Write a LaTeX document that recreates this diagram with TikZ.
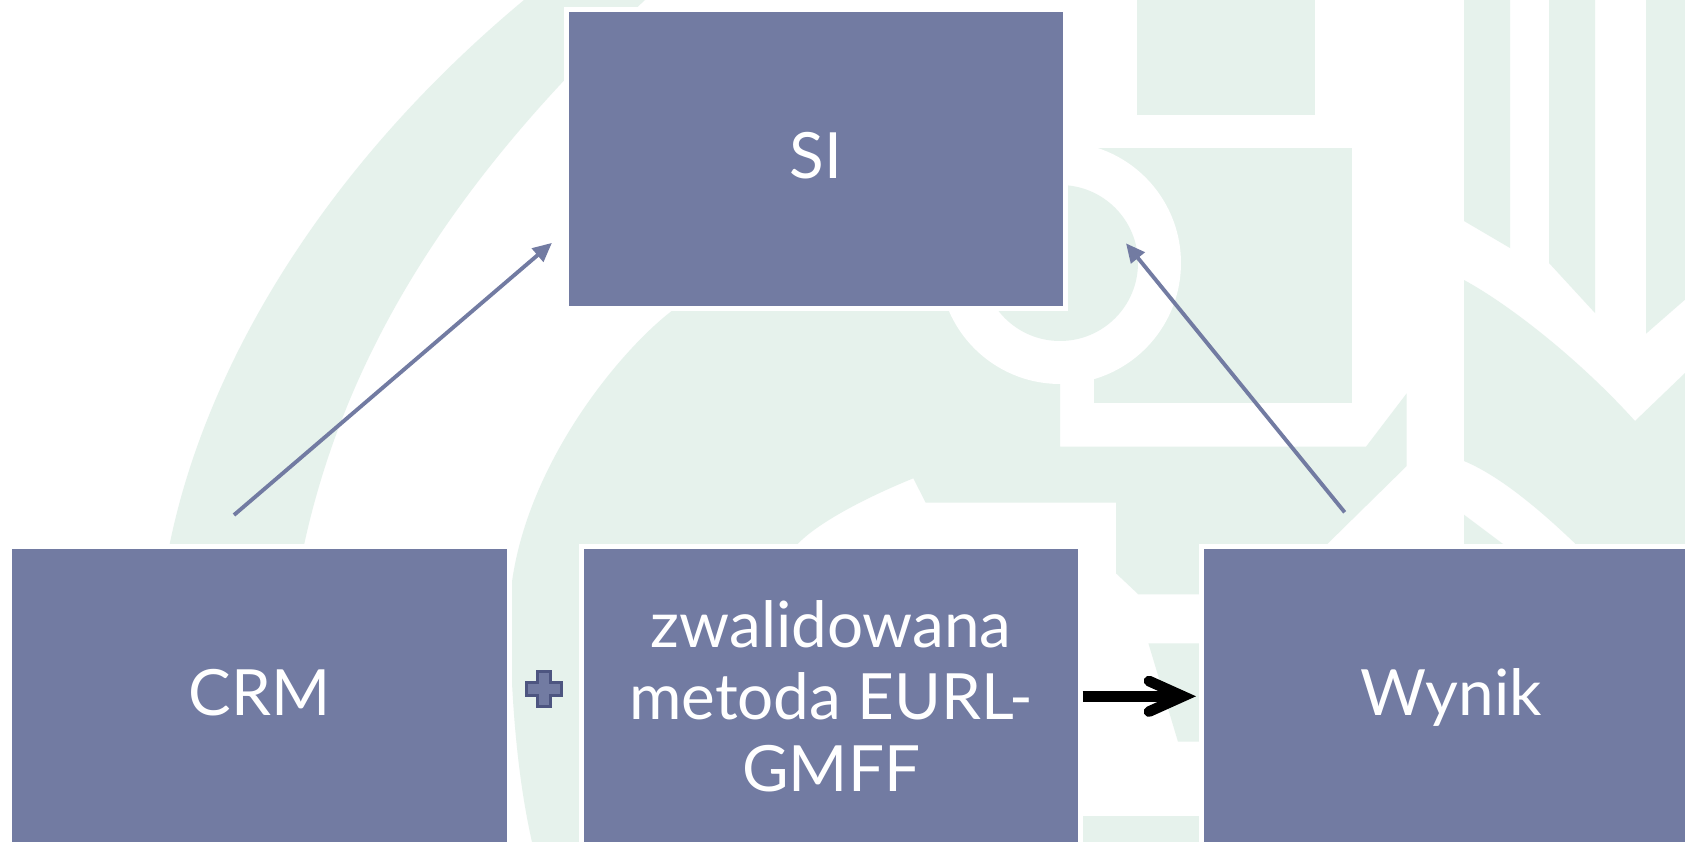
\documentclass[tikz,border=0pt]{standalone}
\usepackage{fontspec}
\setmainfont{Lato}
\usetikzlibrary{arrows.meta,calc}
\definecolor{boxblue}{HTML}{727BA2}
\definecolor{wmgreen}{HTML}{E6F2EC}
\definecolor{plusedge}{HTML}{4D5580}

\begin{document}
\begin{tikzpicture}[x=0.02cm, y=-0.02cm,
  box/.style={fill=boxblue, draw=white, line width=2.83pt,
    minimum width=9.99cm, minimum height=5.99cm, inner sep=0pt,
    text=white, font=\fontsize{36.3}{40.8}\selectfont, align=center},
  oneline/.style={text height=26.1pt, text depth=4.4pt},
  link/.style={draw=boxblue, line width=2.2pt,
    -{Triangle[length=10.8pt, width=9.8pt]}},
  thickbar/.style={draw=black, line width=6.07pt},
  plussign/.style={fill=boxblue, draw=plusedge, line width=1.7pt, line join=miter},
  wm/.style={fill=wmgreen}
]
\useasboundingbox (0,0) rectangle (1685,842);
\clip (0,0) rectangle (1685,842);
\fill[white] (0,0) rectangle (1685,842);

% --- watermark in the background ---
% large curved band on the left
\fill[wm] (169.5,560) -- (169.5,545) .. controls (205,370) and (320,170) .. (524,0) -- (545,-18)
  -- (665,-18) -- (645,0) .. controls (430,200) and (340,380) .. (304,545) -- (304,560) -- cycle;
% central shape
\fill[wm] (700,250) -- (1060,250) -- (1060,446.7) -- (1366,446.7) -- (1406.7,393.3) -- (1406.7,466)
  -- (1327.3,544) -- (1327.3,594.3) -- (1138.3,594.3) -- (1116,573.3) -- (1116,502.7)
  -- (925.7,502.7) -- (913.3,478.3) .. controls (860,500) and (815,525) .. (796.7,545)
  -- (760,600) -- (700,850) -- (534,850) -- (532,842)
  .. controls (518,780) and (510,700) .. (510,600)
  .. controls (520,470) and (620,350) .. (673,310)
  -- (690,290) -- cycle;
% square block right of the ring
\fill[wm] (1094.3,148) rectangle (1351.7,402.7);
% top block
\fill[wm] (1137.3,-5) rectangle (1315,114.7);
% vertical strips on the right
\fill[wm] (1464,-5) -- (1510,-5) -- (1510,248) -- (1464,221) -- cycle;
\fill[wm] (1549,-5) -- (1595,-5) -- (1595,313) -- (1549,263) -- cycle;
\fill[wm] (1646,-5) -- (1690,-5) -- (1690,295.3) -- (1646,333.7) -- cycle;
% chevron block on the right
\fill[wm] (1464,280) .. controls (1510,305) and (1580,360) .. (1635,421) -- (1690,368.2)
  -- (1690,560) -- (1585,560) -- (1575,543.4) .. controls (1540,510) and (1500,476) .. (1464,461) -- cycle;
\fill[wm] (1464,514.7) -- (1515,553) -- (1464,553) -- cycle;
% small pieces between the lower boxes
\fill[wm] (1148.4,643.3) -- (1205,643.3) -- (1205,741.7) -- (1178,741.7) -- cycle;
\fill[wm] (1082.4,815.7) rectangle (1205,850);
% ring
\fill[white] (1060,263) circle[radius=2.42cm];
\fill[wm] (1060,263) circle[radius=1.56cm];

% --- boxes ---
\node[box, oneline] (si) at (815.9,159) {SI};
\node[box, oneline] (crm) at (259.5,696.3) {CRM};
\node[box] (method) at (831.1,696.3) {zwalidowana\\metoda EURL-\\GMFF};
\node[box, oneline] (wynik) at (1451,696.3) {Wynik};

% --- plus sign ---
\node[inner sep=0pt, minimum size=0pt] (plus) at (544,688.8) {};
\draw[plussign, shift={(plus)}]
  (-6.6,-17.35) -- (6.6,-17.35) -- (6.6,-6.6) -- (17.35,-6.6) -- (17.35,6.6) -- (6.6,6.6)
  -- (6.6,17.35) -- (-6.6,17.35) -- (-6.6,6.6) -- (-17.35,6.6) -- (-17.35,-6.6) -- (-6.6,-6.6) -- cycle;

% --- connectors ---
\coordinate (crmout) at (234,515);
\coordinate (siin1) at (551.9,242.9);
\coordinate (wynikout) at (1344.7,512.3);
\coordinate (siin2) at (1126,243.3);
\draw[link] (crmout) -- (siin1);
\draw[link] (wynikout) -- (siin2);

\coordinate (mout) at (1082.7,696.3);
\coordinate (win) at (1183,696.3);
\draw[thickbar] (mout) -- (win);
\draw[thickbar, line cap=round, line join=miter] ($(win)+(-34,-15.3)$) -- (win) -- ($(win)+(-34,15.3)$);
\end{tikzpicture}
\end{document}
